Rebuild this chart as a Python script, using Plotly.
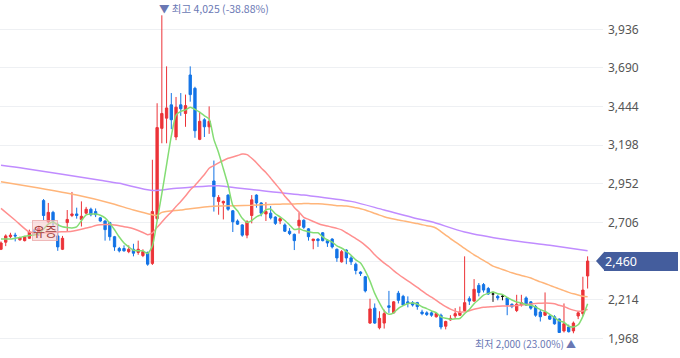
import plotly.graph_objects as go
import pandas as pd

# ---------------- data ----------------
opens = [2535, 2580, 2615, 2625, 2595, 2590, 2605, 2650, 2640, 2845,
         2710, 2770, 2620, 2535, 2705, 2750, 2760, 2725, 2765, 2790,
         2775, 2735, 2715, 2705, 2615, 2540, 2540, 2520, 2535, 2515,
         2495, 2515, 2445, 2730, 3305, 3370, 3455, 3250, 3455, 3400,
         3645, 3560, 3235, 3360, 3315, 2970, 2840, 2830, 2880, 2780,
         2715, 2690, 2625, 2750, 2880, 2830, 2760, 2765, 2740, 2715,
         2690, 2650, 2630, 2685, 2720, 2665, 2590, 2600, 2640, 2590,
         2600, 2535, 2455, 2530, 2480, 2440, 2390, 2360, 2065, 2160,
         2035, 2065, 2175, 2130, 2255, 2235, 2200, 2195, 2195, 2135,
         2130, 2130, 2105, 2115, 2045, 2085, 2110, 2115, 2145, 2220,
         2205, 2305, 2310, 2285, 2250, 2235, 2235, 2225, 2185, 2145,
         2180, 2225, 2200, 2170, 2135, 2115, 2110, 2105, 2090, 2015,
         2040, 2015, 2110, 2125, 2365]
highs = [2585, 2630, 2640, 2640, 2615, 2620, 2660, 2665, 2685, 2855,
         2830, 2780, 2700, 2620, 2785, 2900, 2800, 2840, 2805, 2800,
         2795, 2740, 2720, 2710, 2620, 2550, 2560, 2560, 2570, 2590,
         2535, 2520, 3105, 3465, 4025, 3700, 3530, 3505, 3530, 3520,
         3700, 3570, 3410, 3370, 3445, 3100, 2880, 2845, 2885, 2785,
         2725, 2695, 2720, 2880, 2885, 2835, 2835, 2810, 2745, 2740,
         2700, 2670, 2635, 2770, 2725, 2670, 2600, 2605, 2645, 2600,
         2605, 2540, 2530, 2535, 2495, 2450, 2395, 2365, 2220, 2190,
         2140, 2150, 2270, 2205, 2270, 2245, 2235, 2205, 2200, 2150,
         2140, 2140, 2130, 2125, 2080, 2115, 2160, 2170, 2490, 2235,
         2345, 2320, 2320, 2295, 2265, 2245, 2250, 2230, 2190, 2245,
         2245, 2235, 2205, 2180, 2150, 2260, 2115, 2115, 2095, 2190,
         2055, 2075, 2140, 2360, 2490]
lows = [2530, 2555, 2605, 2585, 2590, 2585, 2600, 2625, 2620, 2720,
        2700, 2685, 2525, 2530, 2645, 2740, 2730, 2680, 2760, 2745,
        2740, 2710, 2590, 2590, 2525, 2515, 2520, 2510, 2490, 2500,
        2485, 2430, 2435, 2720, 3210, 3210, 3300, 3230, 3385, 3315,
        3475, 3245, 3230, 3250, 3270, 2775, 2755, 2725, 2780, 2645,
        2690, 2615, 2605, 2700, 2800, 2745, 2715, 2725, 2690, 2695,
        2645, 2625, 2530, 2635, 2665, 2590, 2535, 2550, 2585, 2550,
        2540, 2455, 2450, 2440, 2435, 2375, 2365, 2260, 2060, 2060,
        2025, 2030, 2130, 2125, 2190, 2175, 2165, 2170, 2150, 2115,
        2110, 2105, 2100, 2025, 2025, 2080, 2090, 2110, 2135, 2180,
        2200, 2235, 2260, 2245, 2200, 2210, 2210, 2115, 2160, 2135,
        2170, 2175, 2150, 2105, 2075, 2110, 2085, 2055, 2005, 2005,
        2005, 2000, 2090, 2110, 2285]
closes = [2575, 2620, 2625, 2620, 2610, 2615, 2645, 2640, 2670, 2750,
          2770, 2715, 2550, 2605, 2725, 2760, 2750, 2745, 2790, 2755,
          2755, 2715, 2660, 2615, 2550, 2525, 2525, 2535, 2510, 2535,
          2520, 2440, 2775, 3310, 3400, 3435, 3360, 3440, 3430, 3450,
          3520, 3290, 3350, 3315, 3350, 2870, 2865, 2840, 2790, 2710,
          2695, 2625, 2710, 2850, 2830, 2765, 2775, 2735, 2700, 2730,
          2650, 2635, 2590, 2720, 2675, 2615, 2600, 2590, 2590, 2575,
          2550, 2480, 2520, 2480, 2455, 2400, 2380, 2270, 2155, 2065,
          2095, 2125, 2165, 2200, 2210, 2180, 2190, 2180, 2170, 2125,
          2120, 2115, 2125, 2040, 2075, 2095, 2125, 2135, 2195, 2205,
          2280, 2260, 2275, 2250, 2250, 2225, 2235, 2180, 2170, 2185,
          2195, 2180, 2160, 2115, 2105, 2135, 2090, 2060, 2005, 2060,
          2010, 2065, 2130, 2275, 2460]

# moving-average values before enough candles are on screen
ma5_head = [2600, 2600, 2600, 2605]
ma20_head_idx = [0, 3, 6, 9, 12, 15, 18]
ma20_head_val = [2795, 2720, 2645, 2640, 2645, 2650, 2670]
ma60_head_idx = [0, 8, 16, 23, 28, 32, 33, 34, 38, 43, 46, 53, 58]
ma60_head_val = [2965, 2925, 2880, 2830, 2785, 2755, 2750, 2770, 2785, 2805, 2810, 2815, 2822]
ma120_idx = [0, 5, 21, 25, 32, 36, 40, 46, 50, 53, 64, 74, 81, 88, 91, 98, 107, 116, 124]
ma120_val = [3070, 3050, 2975, 2955, 2910, 2920, 2930, 2940, 2925, 2915, 2880, 2840,
             2785, 2730, 2710, 2645, 2595, 2560, 2525]

ytick_vals = [1968, 2214, 2460, 2706, 2952, 3198, 3444, 3690, 3936]
ytick_text = ["1,968", "2,214", "", "2,706", "2,952", "3,198", "3,444", "3,690", "3,936"]

high_label = "▼ 최고 4,025 (-38.88%)"
low_label = "최저 2,000 (23.00%) ▲"
event_label = "유증"
last_label = "2,460"

# ---------------- derived ----------------
n = len(closes)
idx = list(range(n))
cs = pd.Series(closes, dtype=float)
ma5 = list(ma5_head) + list(cs.rolling(5).mean().iloc[4:])
ma20 = cs.rolling(20).mean()
ma60 = cs.rolling(60).mean()

max_i = highs.index(max(highs))
min_i = lows.index(min(lows))
last = closes[-1]

RED = "#ec3338"
BLUE = "#1273e6"
BADGE = "#445d9d"
Y0, Y1 = 1842.5, 4122.6
H = 358.0
W = 603.0

def yp(v):
    return (v - Y0) / (Y1 - Y0)

fig = go.Figure()

# candles
mov = [i for i in idx if opens[i] != closes[i]]
flat = [i for i in idx if opens[i] == closes[i]]
fig.add_trace(go.Candlestick(
    x=mov, open=[opens[i] for i in mov], high=[highs[i] for i in mov],
    low=[lows[i] for i in mov], close=[closes[i] for i in mov],
    increasing=dict(line=dict(color=RED, width=1), fillcolor=RED),
    decreasing=dict(line=dict(color=BLUE, width=1), fillcolor=BLUE),
    whiskerwidth=0, hoverinfo="skip", showlegend=False))
fig.add_trace(go.Candlestick(
    x=flat, open=[opens[i] for i in flat], high=[highs[i] for i in flat],
    low=[lows[i] for i in flat], close=[closes[i] for i in flat],
    increasing=dict(line=dict(color="#111111", width=1), fillcolor="#111111"),
    decreasing=dict(line=dict(color="#111111", width=1), fillcolor="#111111"),
    whiskerwidth=0, hoverinfo="skip", showlegend=False))

# moving averages
fig.add_trace(go.Scatter(x=ma120_idx, y=ma120_val, mode="lines",
                         line=dict(color="#c08cff", width=1.5, shape="spline", smoothing=0.8),
                         hoverinfo="skip", showlegend=False))
fig.add_trace(go.Scatter(x=ma60_head_idx + idx[59:], y=ma60_head_val + list(ma60.iloc[59:]),
                         mode="lines", line=dict(color="#ffb57a", width=1.5, shape="spline", smoothing=0.6),
                         hoverinfo="skip", showlegend=False))
fig.add_trace(go.Scatter(x=ma20_head_idx + idx[19:], y=ma20_head_val + list(ma20.iloc[19:]),
                         mode="lines", line=dict(color="#ff8f8f", width=1.5, shape="spline", smoothing=0.6),
                         hoverinfo="skip", showlegend=False))
fig.add_trace(go.Scatter(x=idx, y=ma5, mode="lines",
                         line=dict(color="#84dd74", width=1.5, shape="spline", smoothing=0.6),
                         hoverinfo="skip", showlegend=False))

ann_font = dict(family="Noto Sans CJK KR, Noto Sans, sans-serif", size=10.5, color="#6a78b4")
fig.add_annotation(x=max_i, y=1 - 8.5 / H, yref="paper", text=high_label,
                   showarrow=False, xanchor="left", xshift=-5, yanchor="middle", font=ann_font)
fig.add_annotation(x=min_i, y=1 - 343 / H, yref="paper", text=low_label,
                   showarrow=False, xanchor="right", xshift=5, yanchor="middle",
                   font=dict(ann_font, size=10))
fig.add_annotation(x=9.3, y=2656, text=event_label, showarrow=False,
                   font=dict(family="Noto Sans CJK KR", size=13, color="#a04040"),
                   bgcolor="rgba(245,200,200,0.55)", bordercolor="rgba(235,170,170,0.8)",
                   borderwidth=1, borderpad=0)

# last price badge: arrow tip shape + box annotation
yc = yp(last)
hy = 9.5 / H
tip = 596 / W
rx = 604.5 / W
fig.add_shape(type="path", xref="paper", yref="paper",
              path=f"M {tip},{yc} L {rx},{yc+hy} L {rx},{yc-hy} Z",
              fillcolor=BADGE, line=dict(width=0), layer="above")
fig.add_annotation(x=604 / W, xref="paper", y=yc, yref="paper", text=last_label, showarrow=False,
                   xanchor="left", yanchor="middle", width=72, height=17, align="left",
                   bgcolor=BADGE, borderpad=1, borderwidth=0,
                   font=dict(family="Noto Sans", size=12.5, color="white"))

fig.update_layout(
    width=680, height=358, margin=dict(l=0, r=77, t=0, b=0),
    paper_bgcolor="white", plot_bgcolor="white", boxgap=0.3,
    xaxis=dict(range=[-0.21, 127.25], showgrid=False, zeroline=False, showticklabels=False,
               rangeslider=dict(visible=False), fixedrange=True),
    yaxis=dict(side="right", range=[Y0, Y1], tickvals=ytick_vals, ticktext=ytick_text,
               showgrid=True, gridcolor="#eef0f3", gridwidth=1, zeroline=False, ticks="",
               ticklabelstandoff=4, fixedrange=True,
               tickfont=dict(family="Noto Sans", size=12, color="#555555")),
    showlegend=False,
)
fig.write_html("out.html", config={"displayModeBar": False, "staticPlot": True},
               post_script="document.body.style.margin='0';document.body.style.overflow='hidden';")
